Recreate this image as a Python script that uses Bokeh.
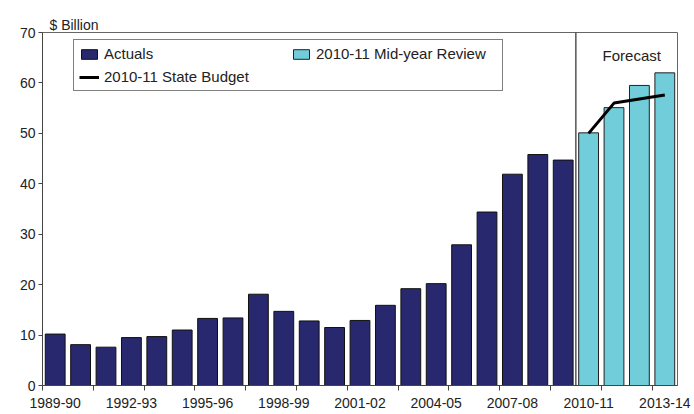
from bokeh.plotting import figure
from bokeh.models import (ColumnDataSource, FixedTicker, Legend, LegendItem, Span, Label, Range1d)
from bokeh.embed import file_html
from bokeh.resources import INLINE

years = ["1989-90", "1990-91", "1991-92", "1992-93", "1993-94", "1994-95", "1995-96",
         "1996-97", "1997-98", "1998-99", "1999-00", "2000-01", "2001-02", "2002-03",
         "2003-04", "2004-05", "2005-06", "2006-07", "2007-08", "2008-09", "2009-10",
         "2010-11", "2011-12", "2012-13", "2013-14"]
actuals = [10.2, 8.1, 7.6, 9.5, 9.7, 11.0, 13.3, 13.4, 18.1, 14.7, 12.8, 11.5, 12.9,
           15.9, 19.2, 20.2, 27.9, 34.4, 41.9, 45.8, 44.7]
midyear = [50.1, 55.1, 59.5, 62.0]
state_budget = [50.0, 56.0, 56.8, 57.6]
y_ticks = [0, 10, 20, 30, 40, 50, 60, 70]

n_act = len(actuals)
x_act = list(range(n_act))
x_fc = list(range(n_act, n_act + len(midyear)))

FONT = "Liberation Sans"
NAVY = "#28286E"
CYAN = "#70CDD9"

p = figure(width=694, height=412, output_backend="svg", toolbar_location=None,
           x_range=Range1d(-0.5, len(years) - 0.5), y_range=Range1d(0, 70),
           min_border_left=42, min_border_right=17, min_border_top=32, min_border_bottom=27)
p.title.text = "$ Billion"
p.title.text_font = FONT
p.title.text_font_size = "14px"
p.title.text_font_style = "normal"
p.title.text_color = "#222222"
p.title.offset = 7
p.title.standoff = 0

p.xgrid.visible = False
p.ygrid.visible = False
p.outline_line_color = "#666666"
p.outline_line_width = 1

src_a = ColumnDataSource(dict(x=x_act, top=actuals))
src_m = ColumnDataSource(dict(x=x_fc, top=midyear))
src_s = ColumnDataSource(dict(x=x_fc, y=state_budget))

r_a = p.vbar(x="x", top="top", width=0.78, bottom=0, source=src_a,
             fill_color=NAVY, line_color="#111111", line_width=1)
r_m = p.vbar(x="x", top="top", width=0.78, bottom=0, source=src_m,
             fill_color=CYAN, line_color="#222222", line_width=1)
r_s = p.line(x="x", y="y", source=src_s, line_color="black", line_width=3)

span = Span(location=n_act - 0.5, dimension="height", line_color="black", line_width=1)
p.add_layout(span)

fc_label = Label(x=n_act + 1.7, y=65.5, text="Forecast", text_align="center",
                 text_baseline="middle", text_font=FONT, text_font_size="15px",
                 text_color="#222222")
p.add_layout(fc_label)

# x axis
xa = p.xaxis[0]
xa.ticker = FixedTicker(ticks=list(range(0, len(years), 3)),
                        minor_ticks=[i - 0.5 for i in range(0, len(years), 2)])
xa.major_label_overrides = {i: years[i] for i in range(0, len(years), 3)}
xa.major_tick_out = 0
xa.major_tick_in = 0
xa.minor_tick_out = 5
xa.minor_tick_in = 0
xa.minor_tick_line_color = "#444444"
xa.axis_line_color = "#444444"
xa.major_label_text_font = FONT
xa.major_label_text_font_size = "14px"
xa.major_label_text_color = "#222222"
xa.major_label_standoff = 7

ya = p.yaxis[0]
ya.ticker = FixedTicker(ticks=y_ticks)
ya.minor_tick_line_color = None
ya.major_tick_out = 4
ya.major_tick_in = 0
ya.major_tick_line_color = "#444444"
ya.axis_line_color = "#444444"
ya.major_label_text_font = FONT
ya.major_label_text_font_size = "14px"
ya.major_label_text_color = "#222222"
ya.major_label_standoff = 3

legend = Legend(items=[LegendItem(label="Actuals", renderers=[r_a]),
                       LegendItem(label="2010-11 Mid-year Review", renderers=[r_m]),
                       LegendItem(label="2010-11 State Budget", renderers=[r_s])],
                location=(31, 294), orientation="horizontal", nrows=2,
                label_text_font=FONT, label_text_font_size="15px",
                label_text_color="#222222",
                border_line_color="black", border_line_width=1,
                background_fill_alpha=1, padding=5, spacing=6,
                glyph_width=20, glyph_height=12, label_standoff=5,
                label_width=181, label_height=17, margin=0)
p.add_layout(legend, "center")

open("out.html", "w").write(file_html(p, INLINE))
